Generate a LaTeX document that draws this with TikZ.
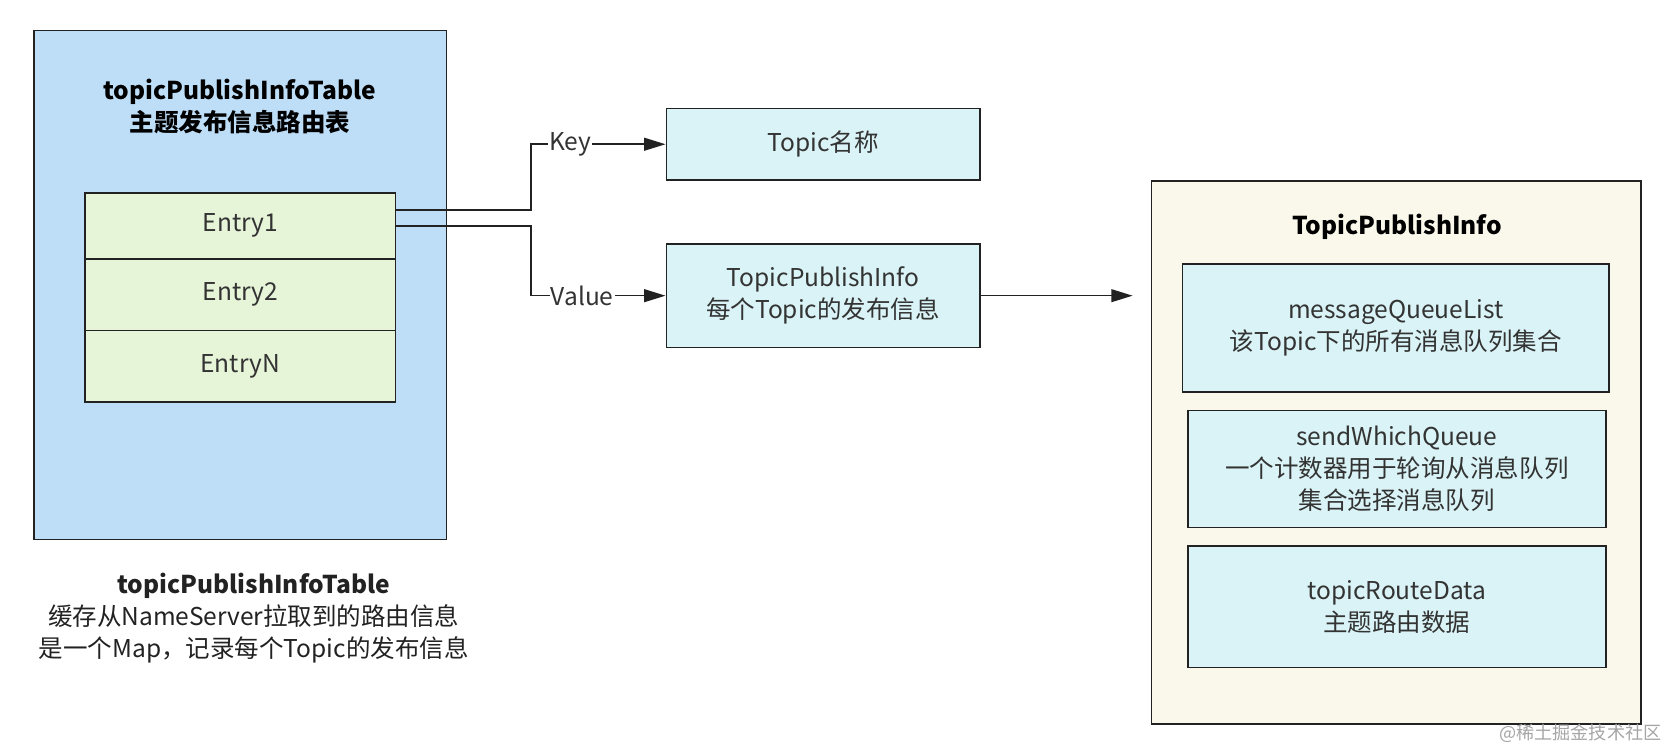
\documentclass[tikz,border=0pt]{standalone}
\usepackage{fontspec}
\setmainfont{Noto Sans CJK SC}
\usetikzlibrary{arrows.meta,calc}
\definecolor{blueF}{RGB}{190,222,248}
\definecolor{greenF}{RGB}{230,244,216}
\definecolor{cyanF}{RGB}{218,243,246}
\definecolor{creamF}{RGB}{249,248,234}
\definecolor{lineC}{RGB}{34,34,34}
\definecolor{textC}{RGB}{51,51,51}
\definecolor{wmC}{RGB}{165,165,165}
\begin{document}
\begin{tikzpicture}[x=1pt,y=-1pt,
  box/.style={draw=lineC, line width=1.5pt, text=textC, align=center,
    font=\fontsize{23}{30}\selectfont, anchor=north west, inner sep=0pt},
  ttl/.style={align=center, text=black, font=\fontsize{23}{30}\selectfont\bfseries},
  lbl/.style={fill=white, text=textC, inner sep=1pt, font=\fontsize{23}{30}\selectfont},
  conn/.style={draw=lineC, line width=1.5pt},
  arr/.style={conn, -{Triangle[length=20pt,width=12pt]}}
]
\useasboundingbox (0,0) rectangle (1564,703);

% left table
\node[box, fill=blueF, minimum width=387pt, minimum height=477pt] (tbl) at (31,28) {};
\node[ttl] (tblt) at (225,100) {topicPublishInfoTable\\主题发布信息路由表};
\node[box, fill=greenF, minimum width=291pt, minimum height=62pt] (e1) at (79,180) {Entry1};
\node[box, fill=greenF, minimum width=291pt, minimum height=67pt] (e2) at (79,242) {Entry2};
\node[box, fill=greenF, minimum width=291pt, minimum height=67pt] (eN) at (79,309) {EntryN};

% caption
\node[align=center, text=lineC, font=\fontsize{23}{30}\selectfont] (cap) at (238,580)
  {\textbf{topicPublishInfoTable}\\缓存从NameServer拉取到的路由信息\\是一个Map，记录每个Topic的发布信息};

% middle boxes
\node[box, fill=cyanF, minimum width=294pt, minimum height=67pt] (tn) at (624,101) {Topic名称};
\node[box, fill=cyanF, minimum width=294pt, minimum height=97pt] (tpi) at (624,228) {TopicPublishInfo\\每个Topic的发布信息};

% right container
\node[box, fill=creamF, minimum width=459pt, minimum height=509pt] (rb) at (1079,169) {};
\node[ttl] (rbt) at (1310,213) {TopicPublishInfo};
\node[box, fill=cyanF, minimum width=400pt, minimum height=120pt] (mq) at (1108,247) {messageQueueList\\该Topic下的所有消息队列集合};
\node[box, fill=cyanF, minimum width=392pt, minimum height=110pt] (sq) at (1113,384) {sendWhichQueue\\一个计数器用于轮询从消息队列\\集合选择消息队列};
\node[box, fill=cyanF, minimum width=392pt, minimum height=114pt] (rd) at (1113,511) {topicRouteData\\主题路由数据};

% connectors
\draw[arr] ([yshift=15pt]e1.east) -| ($(tn.west)+(-126,0)$) -- node[lbl, pos=0.29] {Key} (tn.west);
\draw[arr] (e1.east) -| ($(tpi.west)+(-126,0)$) -- node[lbl, pos=0.38] {Value} (tpi.west);
\draw[arr] (tpi.east) -- ([xshift=-17pt]rb.west |- tpi.east);

% watermark
\node[anchor=east, text=wmC, inner sep=0pt, font=\fontsize{17}{20}\selectfont] (wm) at (1558,688) {@稀土掘金技术社区};
\end{tikzpicture}
\end{document}
